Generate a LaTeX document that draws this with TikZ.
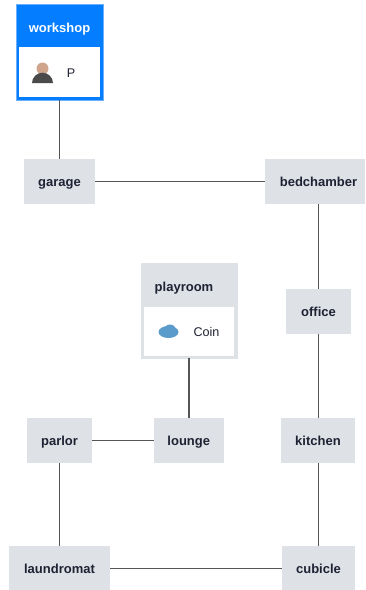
\documentclass[tikz,border=0pt]{standalone}
\usepackage{fontspec}
\setmainfont{Liberation Sans}
\usetikzlibrary{calc,positioning,shapes.geometric}

\definecolor{roomgray}{HTML}{DEE1E6}
\definecolor{activeblue}{HTML}{057DFF}
\definecolor{linkgray}{HTML}{555555}
\definecolor{inkdark}{HTML}{1E2233}
\definecolor{skintone}{HTML}{CFA68C}
\definecolor{bodygray}{HTML}{4A4A4A}
\definecolor{coinblue}{HTML}{5B9BCB}

\begin{document}
\begin{tikzpicture}[x=1pt,y=-1pt,
						room/.style={fill=roomgray,inner sep=0pt,minimum height=45pt,text height=11pt,text depth=2pt,font=\fontsize{13}{15}\selectfont\bfseries,text=inkdark},
						panel/.style={fill=white,inner sep=0pt},
						title/.style={inner sep=0pt,text height=11pt,text depth=2pt,font=\fontsize{13}{15}\selectfont\bfseries},
						label/.style={inner sep=0pt,font=\fontsize{12.6}{15}\selectfont,text=inkdark},
						link/.style={draw=linkgray,line width=1.5pt}]
						\useasboundingbox (0,0) rectangle (365,590);

						%%% Workshop
						\node at (59.5, 52) [fill=activeblue,draw=activeblue!60,inner sep=0pt,minimum width=87pt,minimum height=96pt] (workshop) {};
						\node at (59.5, 72) [panel,minimum width=81pt,minimum height=50pt] (workshoppanel) {};
						\node at (59.5, 28) [title,text=white] (workshoptitle) {workshop};
						\node at (42.5, 68.5) [circle,fill=skintone,inner sep=0pt,minimum size=12pt] (personhead) {};
						\node at (42.5, 79) [semicircle,fill=bodygray,inner sep=0pt,minimum width=21pt,minimum height=8pt] (personbody) {};
						\node at (71, 73) [label] (personname) {P};

						%%% Top row and right column
						\node at (59.5, 181.5) [room,minimum width=71pt] (garage) {garage};
						\node at (315, 181.5) [room,minimum width=100pt] (bedchamber) {};
						\node at (318.5, 181.5) [title,text=inkdark] (bedchambertitle) {bedchamber};
						\node at (318.5, 311.5) [room,minimum width=65pt] (office) {office};
						\node at (318, 440.5) [room,minimum width=74pt] (kitchen) {kitchen};

						%%% Playroom
						\node at (189, 310.5) [fill=roomgray,draw=roomgray,inner sep=0pt,minimum width=96pt,minimum height=95pt] (playroom) {};
						\node at (189, 331) [panel,minimum width=90pt,minimum height=49pt] (playroompanel) {};
						\node at (184, 286.5) [title,text=inkdark] (playroomtitle) {playroom};
						\node at (168.5, 332) [ellipse,fill=coinblue,inner sep=0pt,minimum width=20pt,minimum height=12pt] (coinicon) {};
						\node at (170, 330) [ellipse,fill=coinblue,inner sep=0pt,minimum width=12pt,minimum height=11pt] (coinbump) {};
						\node at (206.5, 331.5) [label] (coinname) {Coin};

						%%% Lower rows
						\node at (59.5, 440.5) [room,minimum width=65pt] (parlor) {parlor};
						\node at (188.8, 440.5) [room,minimum width=70pt] (lounge) {lounge};
						\node at (59.5, 568.5) [room,minimum width=101pt] (laundromat) {laundromat};
						\node at (318.5, 568.5) [room,minimum width=73pt] (cubicle) {cubicle};

						%% Connections
						\path [link] (workshop.south) edge (garage.north);
						\path [link] (garage.east) edge (bedchamber.west);
						\path [link] (office.north) edge (office.north |- bedchamber.south);
						\path [link] (office.south) edge (office.south |- kitchen.north);
						\path [link] (cubicle.north) edge (cubicle.north |- kitchen.south);
						\path [link] (laundromat.east) edge (cubicle.west);
						\path [link] (laundromat.north) edge (parlor.south);
						\path [link] (parlor.east) edge (lounge.west);
						\path [link] (lounge.north) edge (lounge.north |- playroom.south);
					\end{tikzpicture}
\end{document}
